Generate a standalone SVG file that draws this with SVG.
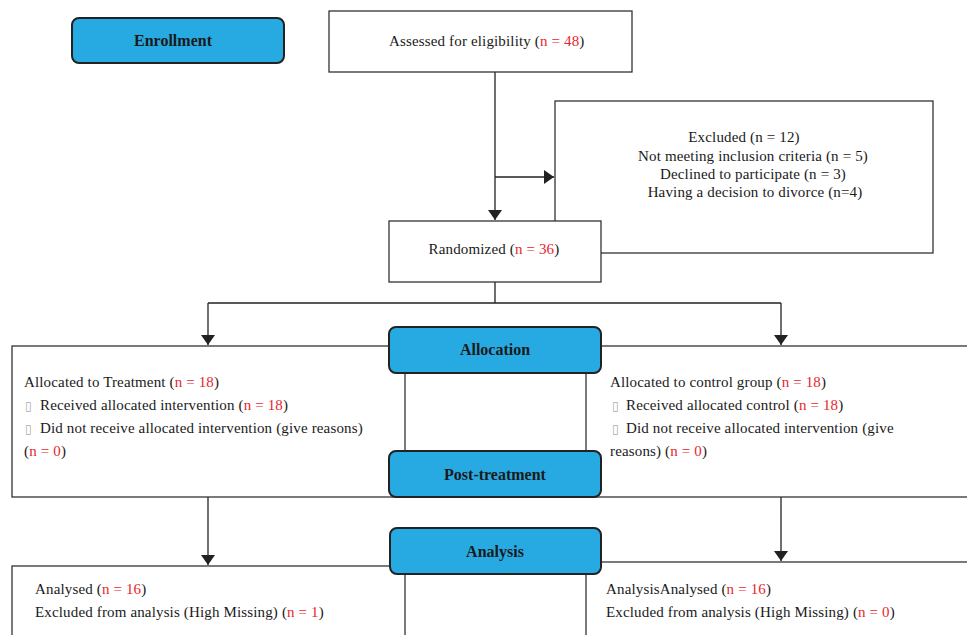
<svg xmlns="http://www.w3.org/2000/svg" width="967" height="635" viewBox="0 0 967 635">
<style>
.box{fill:#fff;stroke:#333;stroke-width:1.3}
.hdr{fill:#27aae2;stroke:#222;stroke-width:2}
.ln{fill:none;stroke:#222;stroke-width:1.3}
.t{font-family:"Liberation Serif","Times New Roman",serif;font-size:15px;letter-spacing:0.15px;fill:#1a1a1a}
.h{font-family:"Liberation Serif","Times New Roman",serif;font-size:16px;font-weight:bold;fill:#1a1a1a;text-anchor:middle}
.r{fill:#e8262d}
.b{font-family:"DejaVu Sans",sans-serif;font-size:12px;fill:#aaa}
</style>
<defs>
<marker id="ah" markerWidth="10" markerHeight="14" refX="10" refY="5" orient="auto" markerUnits="userSpaceOnUse" viewBox="0 0 10 10" preserveAspectRatio="none">
<path d="M0,0 L10,5 L0,10 Z" fill="#222"/>
</marker>
</defs>

<g id="excluded">
<rect class="box" x="555" y="101" width="378" height="152"/>
<text class="t" text-anchor="middle"><tspan x="744" y="142">Excluded (n = 12)</tspan><tspan x="753" y="161">Not meeting inclusion criteria (n = 5)</tspan><tspan x="753" y="179">Declined to participate (n = 3)</tspan><tspan x="755" y="197">Having a decision to divorce (n=4)</tspan></text>
</g>

<g id="connectors">
<path class="ln" d="M495,72 V220" marker-end="url(#ah)"/>
<path class="ln" d="M495,177 H554" marker-end="url(#ah)"/>
<path class="ln" d="M495,282 V303 M208,303 H781"/>
<path class="ln" d="M208,303 V345" marker-end="url(#ah)"/>
<path class="ln" d="M781,303 V345" marker-end="url(#ah)"/>
<path class="ln" d="M208,497 V565" marker-end="url(#ah)"/>
<path class="ln" d="M781,497 V561" marker-end="url(#ah)"/>
</g>

<g id="enrollment">
<rect class="hdr" x="72" y="18" width="212" height="45" rx="7"/>
<text class="h" x="173" y="46">Enrollment</text>
</g>

<g id="assessed">
<rect class="box" x="329" y="11" width="303" height="61"/>
<text class="t" x="389" y="46">Assessed for eligibility (<tspan class="r">n = 48</tspan>)</text>
</g>

<g id="randomized">
<rect class="box" x="389" y="221" width="212" height="61"/>
<text class="t" x="494" y="254" text-anchor="middle">Randomized (<tspan class="r">n = 36</tspan>)</text>
</g>

<g id="treatment">
<rect class="box" x="12" y="346" width="393" height="151"/>
<text class="t" x="24" y="387">Allocated to Treatment (<tspan class="r">n = 18</tspan>)</text>
<text class="b" x="25" y="410">▯</text>
<text class="t" x="40" y="410">Received allocated intervention (<tspan class="r">n = 18</tspan>)</text>
<text class="b" x="25" y="433">▯</text>
<text class="t" x="40" y="433">Did not receive allocated intervention (give reasons)</text>
<text class="t" x="24" y="456">(<tspan class="r">n = 0</tspan>)</text>
</g>

<g id="control">
<rect class="box" x="586" y="346" width="390" height="151"/>
<text class="t" x="610" y="387">Allocated to control group (<tspan class="r">n = 18</tspan>)</text>
<text class="b" x="612" y="410">▯</text>
<text class="t" x="626" y="410">Received allocated control (<tspan class="r">n = 18</tspan>)</text>
<text class="b" x="612" y="433">▯</text>
<text class="t" x="626" y="433">Did not receive allocated intervention (give</text>
<text class="t" x="610" y="456">reasons) (<tspan class="r">n = 0</tspan>)</text>
</g>

<g id="analysis-left">
<rect class="box" x="12" y="566" width="393" height="100"/>
<text class="t" x="35" y="594">Analysed (<tspan class="r">n = 16</tspan>)</text>
<text class="t" x="35" y="617">Excluded from analysis (High Missing) (<tspan class="r">n = 1</tspan>)</text>
</g>

<g id="analysis-right">
<rect class="box" x="586" y="562" width="390" height="100"/>
<text class="t" x="606" y="594">AnalysisAnalysed (<tspan class="r">n = 16</tspan>)</text>
<text class="t" x="606" y="617">Excluded from analysis (High Missing) (<tspan class="r">n = 0</tspan>)</text>
</g>

<g id="allocation">
<rect class="hdr" x="389" y="327" width="212" height="46" rx="7"/>
<text class="h" x="495" y="355">Allocation</text>
</g>

<g id="post-treatment">
<rect class="hdr" x="389" y="451" width="212" height="46" rx="7"/>
<text class="h" x="495" y="480">Post-treatment</text>
</g>

<g id="analysis">
<rect class="hdr" x="390" y="528" width="211" height="46" rx="7"/>
<text class="h" x="495" y="557">Analysis</text>
</g>
</svg>
